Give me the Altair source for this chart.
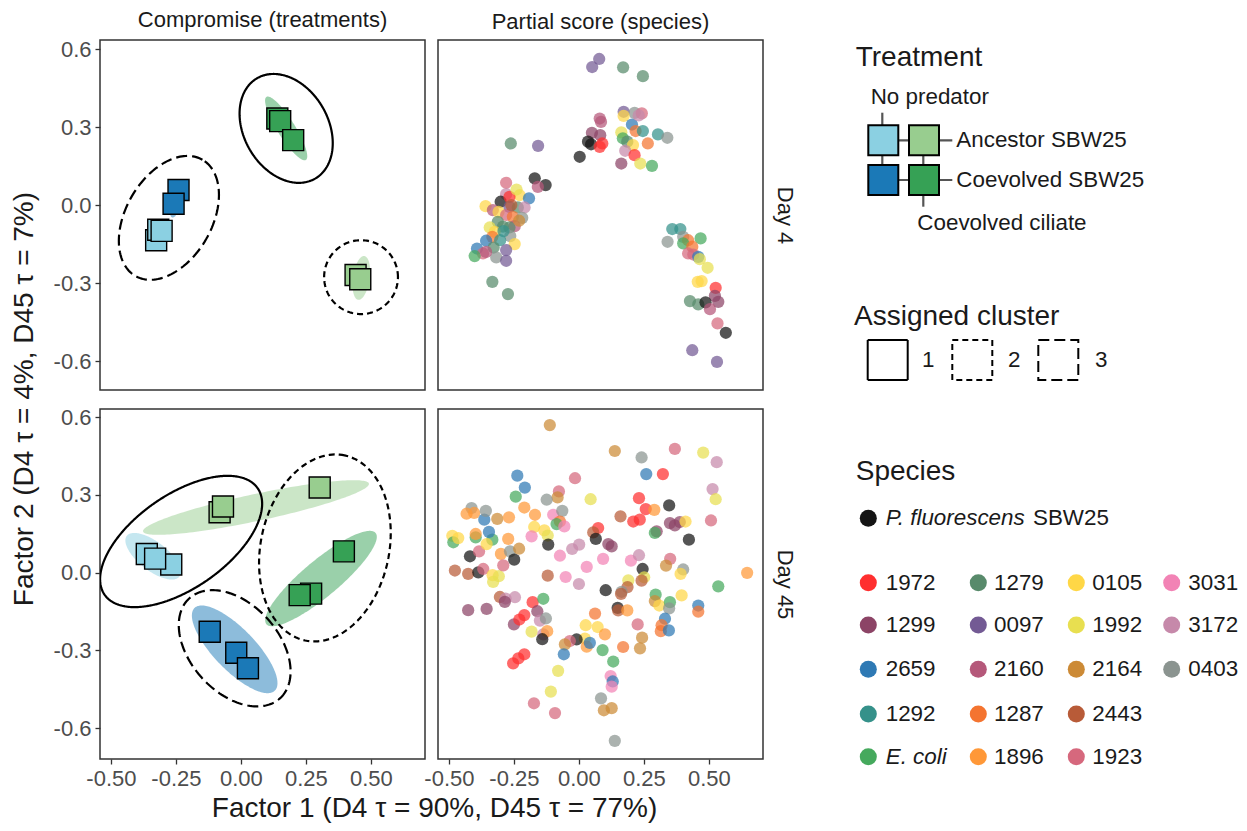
import math
import pandas as pd
import altair as alt

FONT = "Liberation Sans"
TXT = "#1a1a1a"
TITLE_FS = 28
SMALL_FS = 22

# ---------------- categories & colours ----------------
treat_codes = ["NP-Anc", "NP-Coev", "CC-Anc", "CC-Coev"]
treat_colors = ["#8BD0E2", "#1B79B7", "#98CD8F", "#36A155"]

PF = "P. fluorescens SBW25"
EC = "E. coli"
species_names = [PF, "1972", "1299", "2659", "1292", EC,
                 "1279", "0097", "2160", "1287", "1896",
                 "0105", "1992", "2164", "2443", "1923",
                 "3031", "3172", "0403"]
species_colors = ["#141414", "#FF2F2F", "#8C4466", "#2E79B4", "#35918A", "#45A95D",
                  "#588A6B", "#735A94", "#B5587A", "#F47430", "#FF9838",
                  "#FFD746", "#E8DF50", "#CC8A36", "#B85B38", "#D6687D",
                  "#F283B5", "#C689AA", "#8B9490"]

cluster_ids = ["1", "2", "3"]
cluster_dash = [[1, 0], [6, 4], [11, 5]]

# ---------------- compromise (treatment) scores ----------------
c4_treat = ["CC-Coev", "CC-Coev", "CC-Coev", "NP-Coev", "NP-Coev",
            "NP-Anc", "NP-Anc", "NP-Anc", "CC-Anc", "CC-Anc"]
c4_x = [0.140, 0.151, 0.201, -0.240, -0.259, -0.326, -0.318, -0.305, 0.441, 0.459]
c4_y = [0.333, 0.323, 0.250, 0.058, 0.005, -0.135, -0.095, -0.099, -0.269, -0.285]

c45_treat = ["CC-Anc", "CC-Anc", "CC-Anc", "NP-Anc", "NP-Anc", "NP-Anc",
             "CC-Coev", "CC-Coev", "CC-Coev", "NP-Coev", "NP-Coev", "NP-Coev"]
c45_x = [-0.082, -0.069, 0.303, -0.362, -0.268, -0.330, 0.396, 0.270, 0.226, -0.120, -0.018, 0.027]
c45_y = [0.233, 0.255, 0.328, 0.072, 0.031, 0.054, 0.082, -0.081, -0.087, -0.228, -0.309, -0.369]

# treatment ellipses (centre, semi-axes, angle in degrees)
te_day = ["Day 4"] * 4 + ["Day 45"] * 4
te_treat = ["CC-Coev", "CC-Anc", "NP-Coev", "NP-Anc", "CC-Anc", "NP-Anc", "CC-Coev", "NP-Coev"]
te_cx = [0.174, 0.463, -0.245, -0.316, 0.058, -0.338, 0.308, -0.024]
te_cy = [0.295, -0.280, 0.025, -0.110, 0.251, 0.063, -0.023, -0.296]
te_a = [0.143, 0.085, 0.075, 0.040, 0.444, 0.128, 0.274, 0.222]
te_b = [0.034, 0.032, 0.022, 0.015, 0.052, 0.055, 0.070, 0.080]
te_ang = [-58, 82, 75, 70, 12, -38, 40, -46]

# assigned cluster outlines
cl_day = ["Day 4"] * 3 + ["Day 45"] * 3
cl_id = ["1", "3", "2", "1", "2", "3"]
cl_cx = [0.174, -0.277, 0.462, -0.230, 0.323, -0.024]
cl_cy = [0.295, -0.049, -0.277, 0.120, 0.095, -0.292]
cl_a = [0.223, 0.258, 0.142, 0.359, 0.365, 0.260]
cl_b = [0.162, 0.165, 0.142, 0.180, 0.247, 0.170]
cl_ang = [-60, 60, 0, 35, 78, -48]

# ---------------- partial (species) scores ----------------
p4_sp = ["0097", "0097", "1279", "1279",
         "2160", "0097", "0403", "1923", "0105", "2659", "1287", "1292", "1292", "0403",
         "1299", "1299", PF, PF, "1972", "1972", PF, "1992", EC, "1279", "0105", "1287",
         "3172", "1972", "1299", "1992", EC, "3172", "2160",
         "1279", "0097",
         PF, PF, "2160", "1923", "3172", "0105", "2659", PF, "1972", "0105", "2160", "0105",
         "0097", "1279", "3172", "1923", "1287", "0403", "2160", "1279", "1279", "1992",
         "0105", "1279", "0403", "1287", "1292", "0105", "2659", "1279", "2659", "1923",
         EC, "0403", "0097", "0097", "2160", "1279", "1279", "2443", "1992", "2164", "1292",
         "1292", "1292", "0403", "0403", "1287", EC, EC, "1287", "1923", "1923", "2659",
         "1992", "1992", "0105", "0105", "1972", "1299", "1299", "1279", "1279", PF, "2160",
         "1923", PF, "0097", "0097"]
p4_x = [0.078, 0.051, 0.170, 0.246,
        0.080, 0.172, 0.214, 0.242, 0.172, 0.204, 0.218, 0.246, 0.304, 0.340,
        0.050, 0.082, 0.035, 0.047, 0.090, 0.080, 0.003, 0.163, 0.169, 0.186, 0.208, 0.265,
        0.178, 0.214, 0.163, 0.236, 0.281, 0.230, 0.085,
        -0.262, -0.157,
        -0.170, -0.128, -0.158, -0.280, -0.280, -0.228, -0.192, -0.301, -0.267, -0.359, -0.331, -0.309,
        -0.267, -0.235, -0.209, -0.280, -0.254, -0.218, -0.247, -0.312, -0.292, -0.343,
        -0.324, -0.267, -0.264, -0.333, -0.303, -0.247, -0.357, -0.328, -0.392, -0.369,
        -0.401, -0.318, -0.280, -0.280, -0.357, -0.333, -0.273, -0.260, -0.240, -0.230, -0.290,
        0.359, 0.390, 0.341, 0.401, 0.420, 0.468, 0.401, 0.436, 0.420, 0.440, 0.459,
        0.465, 0.495, 0.457, 0.472, 0.526, 0.523, 0.536, 0.427, 0.459, 0.487, 0.504,
        0.533, 0.565, 0.436, 0.531]
p4_y = [0.562, 0.531, 0.530, 0.496,
        0.333, 0.359, 0.355, 0.353, 0.343, 0.310, 0.285, 0.285, 0.272, 0.259,
        0.278, 0.269, 0.244, 0.234, 0.237, 0.224, 0.186, 0.280, 0.257, 0.244, 0.231, 0.237,
        0.209, 0.192, 0.160, 0.160, 0.151, 0.345, 0.320,
        0.237, 0.228,
        0.103, 0.077, 0.070, 0.086, 0.042, 0.038, 0.026, 0.013, 0.032, -0.004, -0.019, -0.026,
        -0.007, -0.009, -0.009, -0.038, -0.045, -0.049, -0.081, -0.064, -0.083, -0.086,
        -0.103, -0.086, -0.119, -0.122, -0.135, -0.150, -0.137, -0.163, -0.167, -0.186,
        -0.196, -0.201, -0.173, -0.214, -0.180, -0.295, -0.342, 0.000, 0.060, -0.060, -0.100,
        -0.092, -0.092, -0.141, -0.122, -0.135, -0.128, -0.147, -0.160, -0.186, -0.190, -0.199,
        -0.208, -0.241, -0.295, -0.292, -0.318, -0.349, -0.372, -0.369, -0.382, -0.374, -0.400,
        -0.455, -0.491, -0.558, -0.603]

p45_sp = ["2164", "2164", "1923", "1992", "3172", "0403", "2659", "1972", "2659", "2659",
          "1923", EC, "1923", "2164", "0403", "1992", "3172", "1992", "1972", PF,
          "1972", "1896", "2443", "1972", "1972", "1299", "1299", "1299", "0105", "1923",
          "1299", EC, PF, "1896", "1896", "3031", "0403", "1287", EC, "3031",
          "0105", "0105", "1992", "3031", PF, "1972", "2443", PF, "1299", "1299",
          "3172", "3172", "3031", "3031", "3031", "3031", "3172", "1923", "2164", "0403",
          "0105", PF, "1992", "2443", "1992", "2443", "0403", "2443", PF, "3031",
          "3172", "2443", "1896", EC, EC, "0105", "2164", "0105", EC, "0403",
          "2659", "1287", PF, "2443", "1896", "2659", "1287", "1287", "2659", "1923",
          "2164", "2164", "1287", "1287", "0105", "0105", "1896", "0105", "1896", "2659",
          PF, "1923", "2164", "2659", EC, EC, "3031", "2659", "3031", "0403",
          "2164", "2164", "0403", "1992", "1992", "1923", "1923", "1972", "1972", "1972",
          "1299", "1972", "1972", "1972", EC, "1299", "3172", "0403", "1992", "3172",
          "1896", PF, "1299", "1299", "2443", "3172", "3172", "1299", "2443", "2443",
          PF, "1923", "0105", "1992", "1992", PF, "1923", "1896", "0403", "2164",
          PF, "1923", "1896", EC, "0105", "2659", EC, "1896", "0105", EC,
          "0105", "0403", "1896", "1896", "2659", "0403", "2164", "1896"]
p45_x = [-0.112, 0.138, 0.369, 0.478, 0.530, 0.241, 0.259, 0.323, -0.237, -0.208,
         -0.015, -0.243, -0.077, -0.082, -0.124, 0.045, 0.514, 0.526, 0.231, 0.347,
         0.257, 0.290, 0.160, 0.209, 0.234, 0.350, 0.369, 0.388, 0.410, 0.508,
         0.299, 0.292, 0.423, -0.210, -0.169, -0.099, -0.064, -0.073, -0.086, -0.056,
         -0.172, -0.133, -0.120, -0.182, -0.118, 0.074, 0.055, 0.065, 0.113, 0.126,
         -0.026, 0.001, -0.073, 0.030, 0.093, 0.200, 0.231, 0.351, 0.335, 0.401,
         0.391, 0.245, 0.251, 0.241, 0.190, 0.187, 0.164, 0.162, 0.103, -0.051,
         0.000, -0.120, 0.647, 0.536, 0.295, 0.395, 0.292, 0.309, 0.350, 0.347,
         0.459, 0.459, 0.149, 0.151, 0.186, 0.331, 0.318, 0.315, 0.346, 0.226,
         0.243, 0.235, 0.170, 0.062, 0.026, 0.072, 0.100, 0.023, 0.030, 0.042,
         -0.009, -0.035, -0.054, -0.058, 0.091, 0.132, 0.122, 0.130, 0.126, 0.085,
         0.096, 0.126, 0.138, -0.080, -0.108, -0.173, -0.092, -0.253, -0.233, -0.210,
         -0.250, -0.229, -0.210, -0.178, -0.137, -0.160, -0.150, -0.127, -0.182, -0.137,
         -0.122, -0.141, -0.426, -0.355, -0.304, -0.282, -0.246, -0.285, -0.477, -0.426,
         -0.387, -0.368, -0.332, -0.308, -0.330, -0.419, -0.384, -0.300, -0.265, -0.230,
         -0.249, -0.291, -0.272, -0.333, -0.355, -0.346, -0.397, -0.397, -0.487, -0.483,
         -0.464, -0.413, -0.432, -0.403, -0.364, -0.358, -0.314, -0.269]
p45_y = [0.569, 0.469, 0.477, 0.463, 0.426, 0.444, 0.380, 0.380, 0.374, 0.328,
         0.364, 0.293, 0.313, 0.290, 0.281, 0.283, 0.322, 0.283, 0.287, 0.259,
         0.245, 0.242, 0.217, 0.197, 0.204, 0.191, 0.182, 0.195, 0.197, 0.201,
         0.159, 0.153, 0.127, 0.251, 0.223, 0.223, 0.238, 0.197, 0.187, 0.178,
         0.176, 0.163, 0.143, 0.140, 0.108, 0.172, 0.155, 0.130, 0.110, 0.101,
         0.091, 0.108, 0.065, 0.022, 0.053, 0.046, 0.067, 0.053, 0.027, 0.012,
         -0.005, 0.014, -0.018, -0.031, -0.030, -0.056, -0.074, -0.082, -0.068, -0.017,
         -0.044, -0.012, -0.001, -0.053, -0.085, -0.088, -0.110, -0.127, -0.114, -0.138,
         -0.127, -0.151, -0.136, -0.146, -0.146, -0.178, -0.203, -0.226, -0.223, -0.200,
         -0.251, -0.292, -0.287, -0.158, -0.203, -0.210, -0.238, -0.255, -0.286, -0.271,
         -0.258, -0.264, -0.277, -0.315, -0.299, -0.343, -0.399, -0.420, -0.440, -0.485,
         -0.531, -0.523, -0.649, -0.379, -0.459, -0.504, -0.542, -0.350, -0.331, -0.315,
         -0.200, -0.181, -0.164, -0.114, -0.101, -0.149, -0.185, -0.177, -0.228, -0.238,
         -0.226, -0.257, -0.145, -0.140, -0.094, -0.100, -0.095, -0.113, 0.008, -0.005,
         0.001, 0.014, -0.010, -0.014, -0.036, 0.063, 0.082, 0.072, 0.082, 0.092,
         0.050, 0.028, 0.130, 0.127, 0.110, 0.157, 0.136, 0.149, 0.142, 0.117,
         0.133, 0.249, 0.227, 0.230, 0.204, 0.238, 0.207, 0.213]

# ---------------- geometry helpers ----------------
def ellipse_band(cx, cy, a, b, ang, n=90):
    th = math.radians(ang)
    c, s = math.cos(th), math.sin(th)
    W = math.sqrt(a * a * c * c + b * b * s * s)
    A = s * s / (a * a) + c * c / (b * b)
    rows = []
    for k in range(n + 1):
        dx = -W * math.cos(math.pi * k / n)
        B = 2 * dx * c * s * (1 / (a * a) - 1 / (b * b))
        C = dx * dx * (c * c / (a * a) + s * s / (b * b)) - 1
        r = math.sqrt(max(B * B - 4 * A * C, 0.0))
        rows.append((cx + dx, cy + (-B - r) / (2 * A), cy + (-B + r) / (2 * A)))
    return rows


def ellipse_ring(cx, cy, a, b, ang, n=160):
    th = math.radians(ang)
    c, s = math.cos(th), math.sin(th)
    out = []
    for k in range(n + 1):
        t = 2 * math.pi * k / n
        ex, ey = a * math.cos(t), b * math.sin(t)
        out.append((k, cx + ex * c - ey * s, cy + ex * s + ey * c))
    return out


def band_df(day):
    rows = []
    for i in range(len(te_day)):
        if te_day[i] != day:
            continue
        for x, lo, hi in ellipse_band(te_cx[i], te_cy[i], te_a[i], te_b[i], te_ang[i]):
            rows.append({"eid": i, "treat": te_treat[i], "x": x, "ylo": lo, "yhi": hi})
    return pd.DataFrame(rows)


def ring_df(day):
    rows = []
    for i in range(len(cl_day)):
        if cl_day[i] != day:
            continue
        for k, x, y in ellipse_ring(cl_cx[i], cl_cy[i], cl_a[i], cl_b[i], cl_ang[i]):
            rows.append({"cid": i, "cluster": cl_id[i], "k": k, "x": x, "y": y})
    return pd.DataFrame(rows)


# ---------------- scales ----------------
XDOM = [-0.542, 0.708]
YDOM = {"Day 4": [-0.711, 0.635], "Day 45": [-0.719, 0.631]}
PW, PH = 325, 350

fill_scale = alt.Scale(domain=treat_codes, range=treat_colors)
color_scale = alt.Scale(domain=species_names, range=species_colors)
dash_scale = alt.Scale(domain=cluster_ids, range=cluster_dash)

AX = dict(labelFont=FONT, labelFontSize=SMALL_FS, labelColor="#4D4D4D", tickColor="#333333",
          tickSize=5, tickWidth=1.3, domain=False, grid=False, labelPadding=4)


def xenc(field, show):
    sc = alt.Scale(domain=XDOM, nice=False, zero=False)
    if show:
        ax = alt.Axis(values=[-0.5, -0.25, 0, 0.25, 0.5],
                      labelExpr="replace(format(datum.value, '.2f'), '\u2212', '-')", **AX)
        return alt.X(f"{field}:Q", scale=sc, axis=ax, title=None)
    return alt.X(f"{field}:Q", scale=sc, axis=None)


def yenc(field, day, mode):
    sc = alt.Scale(domain=YDOM[day], nice=False, zero=False)
    if mode == "left":
        ax = alt.Axis(values=[-0.6, -0.3, 0, 0.3, 0.6],
                      labelExpr="replace(format(datum.value, '.1f'), '\u2212', '-')", **AX)
        return alt.Y(f"{field}:Q", scale=sc, axis=ax, title=None)
    ax = alt.Axis(orient="right", labels=False, ticks=False, domain=False, grid=False,
                  title=day, titleAngle=90, titleFont=FONT, titleFontSize=SMALL_FS,
                  titleFontWeight="normal", titleColor=TXT, titlePadding=9)
    return alt.Y(f"{field}:Q", scale=sc, axis=ax)


def comp_panel(day, show_x):
    if day == "Day 4":
        sq = pd.DataFrame({"treat": c4_treat, "x": c4_x, "y": c4_y})
    else:
        sq = pd.DataFrame({"treat": c45_treat, "x": c45_x, "y": c45_y})
    band = alt.Chart(band_df(day)).mark_area(fillOpacity=0.5, clip=True, orient="vertical").encode(
        x=xenc("x", show_x), y=yenc("ylo", day, "left"), y2="yhi:Q",
        fill=alt.Fill("treat:N", scale=fill_scale, legend=None), detail="eid:N")
    squares = alt.Chart(sq).mark_square(size=441, filled=True, stroke="black", strokeWidth=1.4,
                                        opacity=1).encode(
        x=xenc("x", show_x), y=yenc("y", day, "left"),
        fill=alt.Fill("treat:N", scale=fill_scale, legend=None))
    ring = alt.Chart(ring_df(day)).mark_line(color="black", strokeWidth=2.2, clip=True).encode(
        x=xenc("x", show_x), y=yenc("y", day, "left"), order="k:Q", detail="cid:N",
        strokeDash=alt.StrokeDash("cluster:N", scale=dash_scale, legend=None))
    return alt.layer(band, squares, ring).properties(width=PW, height=PH)


def part_panel(day, show_x):
    if day == "Day 4":
        df = pd.DataFrame({"sp": p4_sp, "x": p4_x, "y": p4_y})
    else:
        df = pd.DataFrame({"sp": p45_sp, "x": p45_x, "y": p45_y})
    pts = alt.Chart(df).mark_circle(size=150, opacity=0.72, clip=True).encode(
        x=xenc("x", show_x), y=yenc("y", day, "right"),
        color=alt.Color("sp:N", scale=color_scale, legend=None))
    return alt.layer(pts).properties(width=PW, height=PH)


def strip(text):
    return alt.TitleParams(text=text, font=FONT, fontSize=SMALL_FS, fontWeight="normal",
                           color=TXT, offset=6, anchor="middle")


tl = comp_panel("Day 4", False).properties(title=strip("Compromise (treatments)"))
tr = part_panel("Day 4", False).properties(title=strip("Partial score (species)"))
bl = comp_panel("Day 45", True)
br = part_panel("Day 45", True)

row1 = alt.hconcat(tl, tr, spacing=13, bounds="flush")
row2 = alt.hconcat(bl, br, spacing=13, bounds="flush")
grid = alt.vconcat(row1, row2, spacing=14)
gy = alt.vconcat(grid, title=alt.TitleParams(
    text="Factor 2 (D4 \u03c4 = 4%, D45 \u03c4 = 7%)", orient="left", anchor="middle",
    font=FONT, fontSize=TITLE_FS, fontWeight="normal", color=TXT, offset=13))
gx = alt.vconcat(gy, title=alt.TitleParams(
    text="Factor 1 (D4 \u03c4 = 90%, D45 \u03c4 = 77%)", orient="bottom", anchor="middle",
    font=FONT, fontSize=TITLE_FS, fontWeight="normal", color=TXT, offset=5, dx=31))

# ---------------- custom legend panel (positions in page pixels) ----------------
LX0, LY0 = 815, 40
LW, LH = 1238 - LX0, 760
lxs = alt.Scale(domain=[LX0, LX0 + LW], nice=False, zero=False)
lys = alt.Scale(domain=[LY0, LY0 + LH], nice=False, zero=False, reverse=True)
LX = alt.X("lx:Q", scale=lxs, axis=None)
LY = alt.Y("ly:Q", scale=lys, axis=None)

leg_title_text = ["Treatment", "Assigned cluster", "Species"]
leg_title_x = [856.7, 855.0, 856.7]
leg_title_y = [58.3, 316.7, 471.7]

leg_label_text = ["No predator", "Ancestor SBW25", "Coevolved SBW25", "Coevolved ciliate",
                  "1", "2", "3", "SBW25"]
leg_label_x = [871.7, 957.3, 957.3, 918.3, 923.0, 1009.0, 1096.0, 1034.0]
leg_label_y = [96.7, 140.0, 180.0, 222.7, 360.0, 360.0, 360.0, 518.3]

rule_x = [883.3, 924.3, 884.3, 884.3]
rule_x2 = [883.3, 924.3, 953.3, 953.3]
rule_y = [112.7, 140.3, 140.3, 180.0]
rule_y2 = [180.0, 206.7, 140.3, 180.0]

leg_sq_treat = ["NP-Anc", "CC-Anc", "NP-Coev", "CC-Coev"]
leg_sq_x = [884.3, 925.0, 884.3, 925.0]
leg_sq_y = [140.3, 140.3, 180.0, 180.0]

leg_cl_x = [888.7, 973.3, 1059.3]
leg_cl_y = [360.0, 360.0, 360.0]

leg_sp_order = [PF, "1972", "1299", "2659", "1292", EC, "1279", "0097", "2160", "1287", "1896",
                "0105", "1992", "2164", "2443", "1923", "3031", "3172", "0403"]
pf_dot_xy = (869.3, 518.3)
pf_txt_x = 886.7
col_dot_x = [869.3, 979.3, 1077.3, 1172.7]
col_txt_x = [886.7, 995.0, 1093.3, 1189.3]
row_y = [582.7, 625.0, 669.3, 714.0, 756.7]

dot_rows, txt_rows, ital_rows = [], [], []
dot_rows.append({"sp": PF, "lx": pf_dot_xy[0], "ly": pf_dot_xy[1]})
ital_rows.append({"t": "P. fluorescens", "lx": pf_txt_x, "ly": pf_dot_xy[1]})
for j, sp in enumerate(leg_sp_order[1:]):
    col, row = divmod(j, 5)
    dot_rows.append({"sp": sp, "lx": col_dot_x[col], "ly": row_y[row]})
    if sp == EC:
        ital_rows.append({"t": sp, "lx": col_txt_x[col], "ly": row_y[row]})
    else:
        txt_rows.append({"t": sp, "lx": col_txt_x[col], "ly": row_y[row]})
for t, x, y in zip(leg_label_text, leg_label_x, leg_label_y):
    txt_rows.append({"t": t, "lx": x, "ly": y})

l_titles = alt.Chart(pd.DataFrame({"t": leg_title_text, "lx": leg_title_x, "ly": leg_title_y})).mark_text(
    align="left", baseline="middle", font=FONT, fontSize=TITLE_FS, color=TXT).encode(x=LX, y=LY, text="t:N")
l_labels = alt.Chart(pd.DataFrame(txt_rows)).mark_text(
    align="left", baseline="middle", font=FONT, fontSize=22.4, color=TXT).encode(x=LX, y=LY, text="t:N")
l_ital = alt.Chart(pd.DataFrame(ital_rows)).mark_text(
    align="left", baseline="middle", font=FONT, fontSize=22.4, fontStyle="italic", color=TXT).encode(
    x=LX, y=LY, text="t:N")
l_rules = alt.Chart(pd.DataFrame({"lx": rule_x, "lx2": rule_x2, "ly": rule_y, "ly2": rule_y2})).mark_rule(
    color="#555555", strokeWidth=2.2).encode(x=LX, x2="lx2:Q", y=LY, y2="ly2:Q")
l_sq = alt.Chart(pd.DataFrame({"treat": leg_sq_treat, "lx": leg_sq_x, "ly": leg_sq_y})).mark_square(
    size=900, filled=True, stroke="black", strokeWidth=2, opacity=1).encode(
    x=LX, y=LY, fill=alt.Fill("treat:N", scale=fill_scale, legend=None))
l_cl = alt.Chart(pd.DataFrame({"cluster": cluster_ids, "lx": leg_cl_x, "ly": leg_cl_y})).mark_square(
    size=1600, filled=False, color="black", strokeWidth=2, opacity=1).encode(
    x=LX, y=LY, strokeDash=alt.StrokeDash("cluster:N", scale=dash_scale, legend=None))
l_dots = alt.Chart(pd.DataFrame(dot_rows)).mark_circle(size=290, opacity=1).encode(
    x=LX, y=LY, color=alt.Color("sp:N", scale=color_scale, legend=None))

legend_panel = alt.layer(l_rules, l_sq, l_cl, l_dots, l_titles, l_labels, l_ital).properties(
    width=LW, height=LH, view=alt.ViewBackground(strokeOpacity=0))

chart = alt.hconcat(gx, legend_panel, spacing=18).properties(
    padding={"left": 3, "top": 0, "right": 0, "bottom": 0}, background="white"
).configure_view(stroke="#333333", strokeWidth=1.5)

chart.save("out.html", embed_options={"renderer": "svg", "actions": False})
